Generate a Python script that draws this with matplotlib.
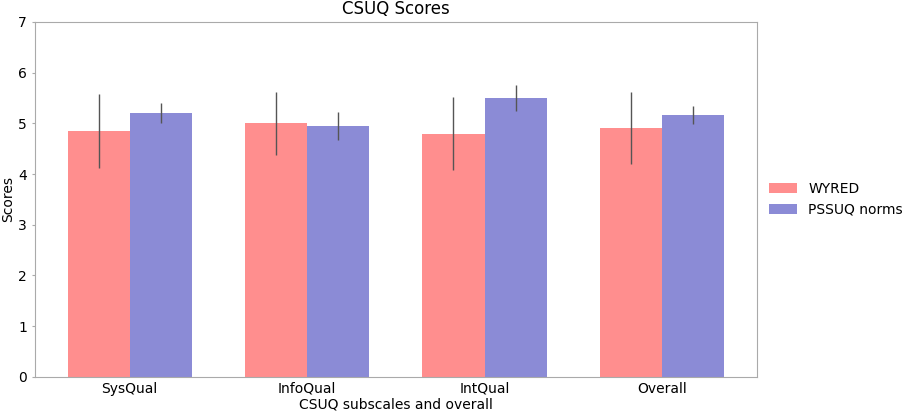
import numpy as np
import matplotlib.pyplot as plt

# CSUQ subscales
categories = ['SysQual', 'InfoQual', 'IntQual', 'Overall']
wyred_means = [4.84, 5.00, 4.80, 4.90]
wyred_err = [0.73, 0.62, 0.72, 0.71]
pssuq_means = [5.20, 4.95, 5.50, 5.17]
pssuq_err = [0.20, 0.28, 0.25, 0.18]

x = np.arange(len(categories))
width = 0.35

fig = plt.figure(figsize=(9.13, 4.15), dpi=100)
ax = fig.add_axes([0.038, 0.092, 0.791, 0.855])

ax.bar(x - width / 2, wyred_means, width, yerr=wyred_err, color='#ff8e8e',
       ecolor='#555555', error_kw={'elinewidth': 1}, label='WYRED')
ax.bar(x + width / 2, pssuq_means, width, yerr=pssuq_err, color='#8b8bd6',
       ecolor='#555555', error_kw={'elinewidth': 1}, label='PSSUQ norms')

ax.set_ylim(0, 7)
ax.set_xticks(x)
ax.set_xticklabels(categories, fontsize=10)
ax.tick_params(axis='y', labelsize=10, length=2, color='#aaaaaa')
ax.tick_params(axis='x', length=0)
for s in ax.spines.values():
    s.set_color('#aaaaaa')

ax.set_title('CSUQ Scores', fontsize=12)
ax.set_xlabel('CSUQ subscales and overall', fontsize=10, labelpad=1)
ax.set_ylabel('Scores', fontsize=10, labelpad=2)
ax.legend(loc='center left', bbox_to_anchor=(1.0, 0.5), frameon=False, fontsize=10)

fig.savefig('out.png', dpi=100)
